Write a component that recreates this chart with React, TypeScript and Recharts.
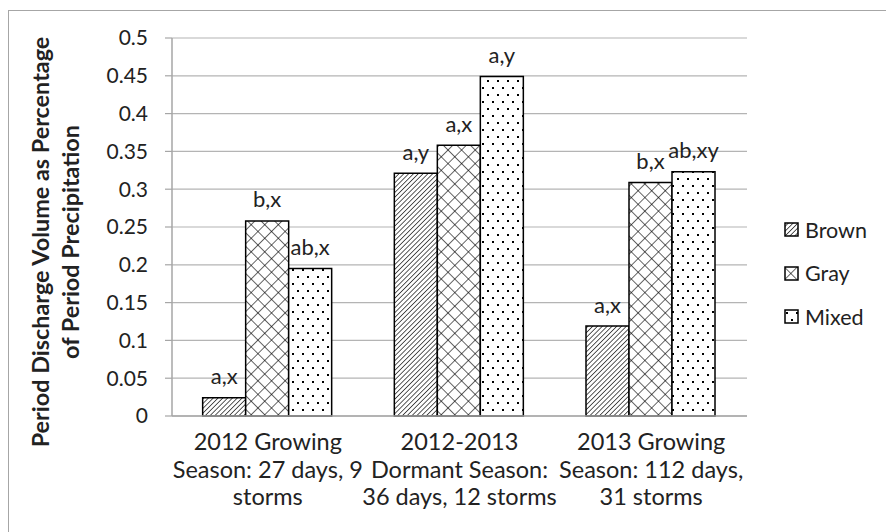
import React from "react";
import { BarChart, Bar, XAxis, YAxis, CartesianGrid, LabelList, Label } from "recharts";

// three monitoring periods, one group of bars each
const categories = ["2012 Growing", "2012-2013 Dormant", "2013 Growing"];
const categoryLines = [
  ["2012 Growing", "Season: 27 days, 9", "storms"],
  ["2012-2013", "Dormant Season:", "36 days, 12 storms"],
  ["2013 Growing", "Season: 112 days,", "31 storms"],
];

const seriesNames = ["Brown", "Gray", "Mixed"];
const brownValues = [0.024, 0.321, 0.119];
const grayValues = [0.258, 0.358, 0.309];
const mixedValues = [0.195, 0.449, 0.323];

// significance letters printed over each bar
const brownLetters = ["a,x", "a,y", "a,x"];
const grayLetters = ["b,x", "a,x", "b,x"];
const mixedLetters = ["ab,x", "a,y", "ab,xy"];

const yTicks = [0, 0.05, 0.1, 0.15, 0.2, 0.25, 0.3, 0.35, 0.4, 0.45, 0.5];

const data = categories.map((category, i) => ({
  category,
  lines: categoryLines[i],
  brown: brownValues[i],
  gray: grayValues[i],
  mixed: mixedValues[i],
  brownLetter: brownLetters[i],
  grayLetter: grayLetters[i],
  mixedLetter: mixedLetters[i],
}));

const FONT = "Lato, 'Open Sans', sans-serif";
const TEXT = "#222";
const GRID = "#b4b4b4";
const AXIS = "#a6a6a6";

const fills = ["url(#hatchBrown)", "url(#hatchGray)", "url(#hatchMixed)"];
const keys = ["brown", "gray", "mixed"];
const letterKeys = ["brownLetter", "grayLetter", "mixedLetter"];

const Patterns = () => (
  <defs>
    <pattern id="hatchBrown" width="3.4" height="3.4" patternUnits="userSpaceOnUse" patternTransform="rotate(45)">
      <rect width="3.4" height="3.4" fill="#fff" />
      <line x1="0" y1="0" x2="0" y2="3.4" stroke="#000" strokeWidth="1.3" />
    </pattern>
    <pattern id="hatchGray" width="9.6" height="9.6" patternUnits="userSpaceOnUse" patternTransform="rotate(45)">
      <rect width="9.6" height="9.6" fill="#fff" />
      <line x1="0" y1="0" x2="0" y2="9.6" stroke="#000" strokeWidth="1.2" />
      <line x1="0" y1="0" x2="9.6" y2="0" stroke="#000" strokeWidth="1.2" />
    </pattern>
    <pattern id="hatchMixed" width="10" height="14" patternUnits="userSpaceOnUse">
      <rect width="10" height="14" fill="#fff" />
      <rect x="2" y="3" width="2" height="2" fill="#000" />
      <rect x="7" y="10" width="2" height="2" fill="#000" />
    </pattern>
  </defs>
);

const renderLetter = (props: any) => {
  const { x, y, width, value } = props;
  return (
    <text
      x={Number(x) + Number(width) / 2}
      y={Number(y) - 22}
      textAnchor="middle"
      dominantBaseline="central"
      fontSize={22}
      fontFamily={FONT}
      fill={TEXT}
    >
      {value}
    </text>
  );
};

const CategoryTick = (props: any) => {
  const { x, y, index } = props;
  const lines = data[index]?.lines ?? [];
  return (
    <g>
      {lines.map((line: string, i: number) => (
        <text
          key={i}
          x={x}
          y={y + 25 + i * 27.5}
          textAnchor="middle"
          dominantBaseline="central"
          fontSize={23.5}
          fontFamily={FONT}
          fill={TEXT}
        >
          {line}
        </text>
      ))}
    </g>
  );
};

const YTitle = () => (
  <g fontFamily={FONT} fontWeight="bold" fontSize={23.4} fill={TEXT}>
    <text x={40} y={242} transform="rotate(-90 40 242)" textAnchor="middle" dominantBaseline="central">
      Period Discharge Volume as Percentage
    </text>
    <text x={70} y={242} transform="rotate(-90 70 242)" textAnchor="middle" dominantBaseline="central">
      of Period Precipitation
    </text>
  </g>
);

const LegendBox = () => (
  <div style={{ position: "absolute", left: 784, top: 208 }}>
    {seriesNames.map((name, i) => (
      <div key={name} style={{ display: "flex", alignItems: "center", height: 43.5 }}>
        <svg width={15} height={15} style={{ marginRight: 6 }}>
          <rect x={1} y={1} width={13} height={13} fill={fills[i]} stroke="#000" strokeWidth={1.5} />
        </svg>
        <span style={{ fontSize: 21.5, color: TEXT, fontFamily: FONT }}>{name}</span>
      </div>
    ))}
  </div>
);

export default function App() {
  return (
    <div style={{ position: "fixed", left: 0, top: 0, width: 886, height: 532, overflow: "hidden", background: "#fff", fontFamily: FONT }}>
      <div style={{ position: "absolute", left: 8, top: 10, width: 900, height: 540, border: "1px solid #a6a6a6" }} />
      <div style={{ position: "absolute", left: 0, top: 0 }}>
        <BarChart
          width={886}
          height={532}
          data={data}
          margin={{ top: 38, right: 139, left: 0, bottom: 0 }}
          barCategoryGap="16%"
          barGap={0}
        >
          <Patterns />
          <CartesianGrid vertical={false} stroke={GRID} strokeWidth={1.2} />
          <XAxis
            dataKey="category"
            height={116}
            interval={0}
            tickLine={false}
            tickSize={0}
            tickMargin={0}
            axisLine={{ stroke: AXIS, strokeWidth: 1.5 }}
            tick={<CategoryTick />}
          />
          <YAxis
            width={172}
            domain={[0, 0.5]}
            ticks={yTicks}
            interval={0}
            tickSize={7}
            tickMargin={17}
            axisLine={{ stroke: AXIS, strokeWidth: 1.5 }}
            tickLine={{ stroke: AXIS, strokeWidth: 1.2 }}
            tick={{ fill: TEXT, fontSize: 21, fontFamily: FONT }}
          >
            <Label content={() => <YTitle />} />
          </YAxis>
          {keys.map((key, i) => (
            <Bar
              key={key}
              dataKey={key}
              name={seriesNames[i]}
              fill={fills[i]}
              stroke="#000"
              strokeWidth={1.5}
              isAnimationActive={false}
            >
              <LabelList dataKey={letterKeys[i]} content={renderLetter} />
            </Bar>
          ))}
        </BarChart>
      </div>
      <LegendBox />
    </div>
  );
}
